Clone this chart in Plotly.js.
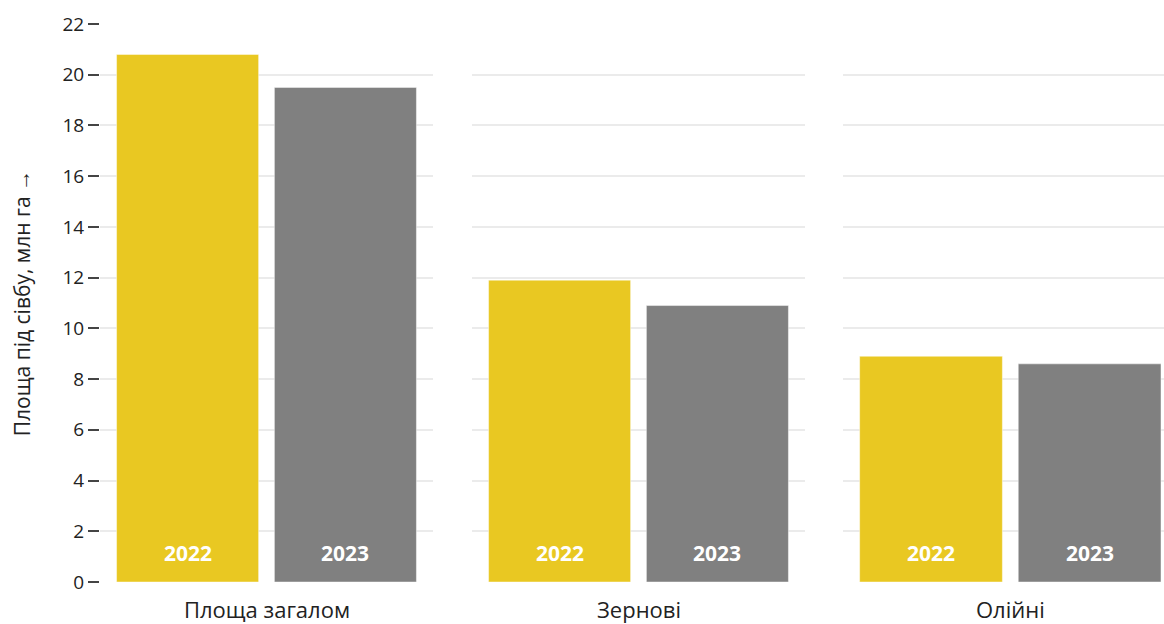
<!DOCTYPE html>
<html>
<head>
<meta charset="utf-8">
<script src="https://cdn.plot.ly/plotly-3.0.1.min.js"></script>
<style>html,body{margin:0;padding:0;background:#fff;}#chart{width:1164px;height:624px;}</style>
</head>
<body>
<div id="chart"></div>
<script>
var groups = ['Площа загалом', 'Зернові', 'Олійні'];
var years = ['2022', '2023'];
var values = [
  [20.8, 19.5],
  [11.9, 10.9],
  [8.9, 8.6]
];
var yearColors = ['#e9c822', '#808080'];
var yTitle = 'Площа під сівбу, млн га →';
var yTicks = [0, 2, 4, 6, 8, 10, 12, 14, 16, 18, 20, 22];

var font = 'Open Sans, Noto Sans, sans-serif';
function axName(gi) { return gi === 0 ? 'x' : 'x' + (gi + 1); }
var traces = [];
groups.forEach(function (g, gi) {
  traces.push({
    type: 'bar',
    x: years,
    y: values[gi],
    xaxis: axName(gi),
    yaxis: 'y',
    width: 0.9,
    marker: {color: yearColors, line: {color: 'rgba(255,255,255,0.45)', width: 1}},
    hoverinfo: 'x+y',
    showlegend: false
  });
});

var W = 1064, L = 100;
function dom(a, b) { return [(a - L) / W, (b - L) / W]; }
function xax(d, r) {
  return {
    domain: d, range: r, type: 'category', anchor: 'y',
    showticklabels: false, ticks: '', showgrid: false, zeroline: false, showline: false, fixedrange: true
  };
}
var annotations = [];
groups.forEach(function (g, gi) {
  annotations.push({
    text: g, xref: axName(gi), yref: 'paper',
    x: 0.5, y: 0, yshift: -27, yanchor: 'middle', showarrow: false,
    font: {family: font, size: 22, color: '#222'}
  });
  years.forEach(function (yr, yi) {
    annotations.push({
      text: '<b>' + yr + '</b>', xref: axName(gi), yref: 'y',
      x: yi, y: 0, yshift: 29, yanchor: 'middle', showarrow: false,
      font: {family: font, size: 21, color: '#ffffff'}
    });
  });
});
var layout = {
  width: 1164, height: 624,
  margin: {l: 100, r: 0, t: 24, b: 42},
  paper_bgcolor: '#fff', plot_bgcolor: '#fff',
  font: {family: font, size: 18, color: '#222'},
  bargap: 0,
  xaxis: xax(dom(100, 433), [-0.555, 1.555]),
  xaxis2: xax(dom(472, 805), [-0.555, 1.555]),
  xaxis3: xax(dom(843, 1164), [-0.555, 1.469]),
  yaxis: {
    range: [0, 22], tickvals: yTicks, ticks: 'outside', ticklen: 11, tickwidth: 2,
    tickcolor: '#444', tickfont: {family: font, size: 19, color: '#222'},
    showgrid: true, gridcolor: '#ebebeb', gridwidth: 2, zeroline: false, showline: false,
    title: {text: yTitle, font: {family: font, size: 21, color: '#222'}, standoff: 26},
    fixedrange: true
  },
  annotations: annotations
};
Plotly.newPlot('chart', traces, layout, {displayModeBar: false, staticPlot: true});
</script>
</body>
</html>
